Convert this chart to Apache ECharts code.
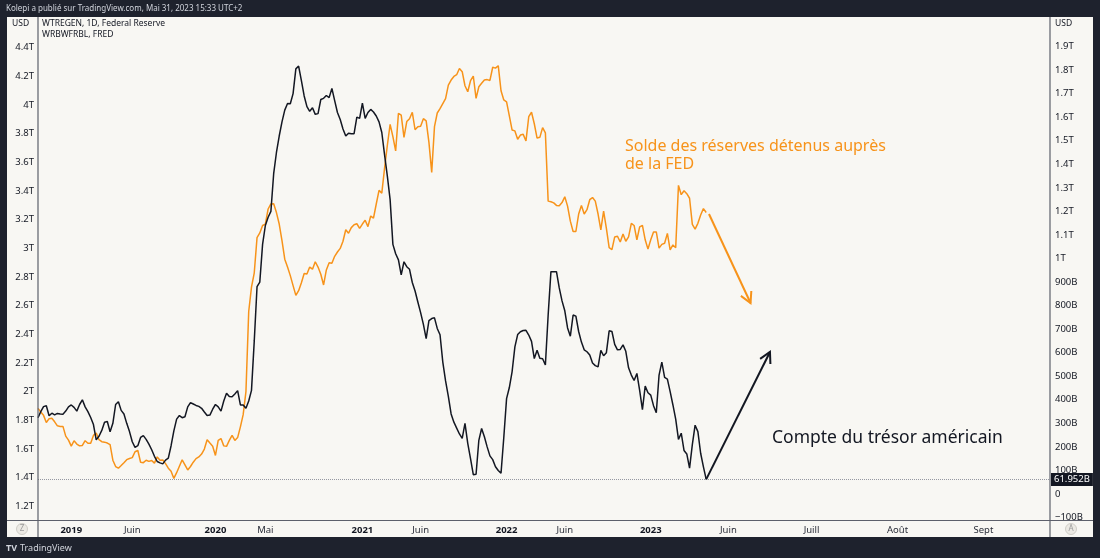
<!DOCTYPE html>
<html><head><meta charset="utf-8">
<script src="https://cdn.jsdelivr.net/npm/echarts@6/dist/echarts.min.js"></script>
<style>html,body{margin:0;padding:0;background:#1e222d;}#c{width:1100px;height:558px;}</style>
</head><body><div id="c"></div>
<script>
// ---- data ----
const firstWeek = '2018-10-10';      // first weekly observation (Wednesday)
const lastWeek = '2023-05-24';       // last weekly observation
const lastFutureDay = '2023-09-25';  // right edge of the time scale (daily future bars)

// WRBWFRBL – reserve balances with Federal Reserve Banks (billions USD), weekly
const reserves = [1884,1858,1835,1785,1812,1815,1790,1762,1758,1758,1690,1662,1620,1658,1635,1622,1625,1658,1640,1640,
1695,1712,1665,1651,1648,1642,1630,1522,1478,1466,1485,1505,1526,1534,1540,1581,1590,1508,1505,1522,
1514,1520,1502,1545,1522,1524,1498,1466,1445,1395,1435,1480,1525,1490,1454,1478,1508,1533,1545,1565,
1600,1665,1642,1620,1555,1660,1673,1622,1619,1660,1696,1660,1680,1755,1840,2000,2560,2730,2830,3075,
3108,3160,3170,3275,3310,3312,3250,3170,3055,2925,2870,2810,2740,2672,2705,2760,2825,2821,2870,2855,
2907,2870,2820,2745,2850,2900,2896,2945,2975,3000,3050,3130,3106,3145,3165,3172,3140,3170,3197,3152,
3226,3212,3310,3405,3386,3560,3720,3865,3780,3680,3943,3930,3775,3885,3905,3950,3828,3849,3852,3905,
3890,3740,3530,3850,3945,3975,4010,4045,4140,4175,4200,4212,4255,4233,4135,4093,4170,4203,4047,4128,
4152,4175,4178,4172,4264,4258,4275,4100,4036,4022,3925,3826,3820,3762,3791,3796,3750,3919,3950,3870,
3770,3775,3843,3806,3330,3326,3318,3300,3298,3320,3360,3295,3190,3118,3118,3240,3300,3240,3270,3340,
3355,3330,3240,3130,3260,3140,3005,2992,3080,3085,3045,3100,3050,3080,3175,3160,3060,3150,3160,3060,
2995,3060,3115,3115,3002,3028,3036,3105,2990,3024,3005,3440,3375,3402,3382,3350,3168,3135,3175,3233,
3278,3251];

// WTREGEN – Treasury General Account (billions USD), weekly
const tga = [324,350,371,375,332,343,336,342,340,339,352,370,378,368,352,380,400,370,350,325,
295,230,245,270,305,308,264,300,380,392,355,340,300,265,222,198,205,240,248,232,
212,188,160,138,132,128,144,152,205,268,318,333,324,328,370,388,382,376,372,364,
348,333,335,360,380,370,352,395,428,414,413,425,439,378,378,364,395,440,650,880,
900,1060,1140,1175,1200,1360,1450,1520,1580,1630,1658,1657,1700,1805,1817,1755,1690,1645,1625,1640,
1612,1615,1675,1680,1692,1683,1722,1670,1620,1590,1550,1520,1532,1530,1530,1600,1595,1660,1595,1620,
1633,1622,1605,1580,1535,1440,1350,1250,1060,1020,994,930,986,965,954,898,862,815,770,720,
660,736,745,748,703,676,560,480,415,340,305,280,255,236,300,215,150,82,84,228,
278,243,200,162,146,116,100,88,240,405,452,520,625,677,689,694,695,675,648,575,
610,576,574,548,760,944,944,944,875,820,778,705,670,760,755,690,645,612,604,590,
556,545,540,610,587,600,693,690,635,612,614,633,606,536,505,482,512,440,358,458,
430,420,375,345,505,560,495,488,435,378,318,232,258,185,170,110,210,292,265,173,
115,61.952];

const xTicks = [
  ['2019-01-02','2019',true],['2019-06-05','Juin',false],['2020-01-01','2020',true],['2020-05-06','Mai',false],
  ['2021-01-06','2021',true],['2021-06-02','Juin',false],['2022-01-05','2022',true],['2022-06-01','Juin',false],
  ['2023-01-04','2023',true],['2023-06-01','Juin',false],['2023-07-01','Juill',false],['2023-08-01','Août',false],
  ['2023-09-01','Sept',false]
];
const leftTicks = [1200,1400,1600,1800,2000,2200,2400,2600,2800,3000,3200,3400,3600,3800,4000,4200,4400];
const rightTicks = [-100,0,100,200,300,400,500,600,700,800,900,1000,1100,1200,1300,1400,1500,1600,1700,1800,1900];

// annotation arrows in data space [date, value]
const tgaArrow = [['2023-05-24', 61.952], ['2023-06-16', 603]];
const resArrow = [['2023-05-25', 3240], ['2023-06-09', 2619]];

// ---- categories (weekly history, daily future) ----
function d2s(t){return new Date(t).toISOString().slice(0,10);}
const categories = [];
let t = Date.parse(firstWeek+'T00:00:00Z');
const tLast = Date.parse(lastWeek+'T00:00:00Z');
while (t <= tLast) { categories.push(d2s(t)); t += 7*864e5; }
t = tLast + 864e5;
const tEnd = Date.parse(lastFutureDay+'T00:00:00Z');
while (t <= tEnd) { categories.push(d2s(t)); t += 864e5; }
const pad = n => Array(categories.length - n).fill(null);
const resData = reserves.concat(pad(reserves.length));
const tgaData = tga.concat(pad(tga.length));
const tickMap = new Map(xTicks.map(a => [a[0], a]));

// ---- layout ----
const W = 1100, H = 558;
const PL = 7, PR = 1093, PT = 17, PB = 537;  // light panel
const GL = 38, GR = 1050, GB = 520.5;        // plot area
const ORANGE = '#f7931a', INK = '#131722';
const FONT = 'Noto Sans';

const fmtT = v => (Math.round(v/100)/10) + 'T';
const fmtB = v => Math.abs(v) < 1e-6 ? '0' : (v >= 1000 ? (Math.round(v/100)/10) + 'T' : (v < 0 ? '\u2212' + (-v) + 'B' : v + 'B'));

const chart = echarts.init(document.getElementById('c'), null, {renderer:'canvas'});
chart.setOption({
  animation: false,
  backgroundColor: '#1e222d',
  textStyle: {fontFamily: FONT},
  grid: {left: GL, right: W - GR, top: PT, bottom: H - GB, containLabel: false},
  xAxis: {
    type: 'category', data: categories, boundaryGap: false,
    axisLine: {show: false, onZero: false}, axisTick: {show: false}, splitLine: {show: false},
    axisLabel: {
      interval: (i, v) => tickMap.has(v), hideOverlap: false, margin: 5,
      formatter: v => { const a = tickMap.get(v); return a ? (a[2] ? '{y|' + a[1] + '}' : '{m|' + a[1] + '}') : ''; },
      rich: {y: {fontWeight: 'bold', fontSize: 9.5, color: INK, fontFamily: FONT},
             m: {fontSize: 9.5, color: '#2a2e39', fontFamily: FONT}}
    }
  },
  yAxis: [
    {type: 'value', position: 'left', min: 1101.3, max: 4614.8,
     axisLine: {show: false}, axisTick: {show: false}, splitLine: {show: false},
     axisLabel: {customValues: leftTicks, formatter: fmtT, color: INK, fontSize: 9.5, margin: 4, fontFamily: FONT, hideOverlap: false}},
    {type: 'value', position: 'right', min: -112.5, max: 2025.3,
     axisLine: {show: false}, axisTick: {show: false}, splitLine: {show: false},
     axisLabel: {customValues: rightTicks, formatter: fmtB, color: INK, fontSize: 9.5, margin: 5, align: 'left', fontFamily: FONT, hideOverlap: false}}
  ],
  series: [
    {name: 'WRBWFRBL', type: 'line', yAxisIndex: 0, data: resData, showSymbol: false, connectNulls: false,
     lineStyle: {color: ORANGE, width: 1.5}, z: 3,
     markLine: {silent: true, symbol: 'none', data: [{yAxis: reserves[reserves.length-1]}],
       lineStyle: {opacity: 0}, label: {position: 'start', distance: 1, formatter: '3.251T', color: '#fff',
       backgroundColor: ORANGE, padding: [1, 2, 1, 2], lineHeight: 11, fontSize: 9.5, fontFamily: FONT}}},
    {name: 'WTREGEN', type: 'line', yAxisIndex: 1, data: tgaData, showSymbol: false, connectNulls: false,
     lineStyle: {color: INK, width: 1.5}, z: 4,
     markLine: {silent: true, symbol: 'none', data: [{yAxis: 61.952}],
       lineStyle: {color: '#9598a1', type: 'dotted', width: 1},
       label: {position: 'end', distance: 1, formatter: '61.952B', color: '#fff', backgroundColor: INK,
       padding: [1, 3, 1, 3], lineHeight: 11, fontSize: 9.5, fontFamily: FONT}}}
  ]
});

function px(pt, yIdx){ return chart.convertToPixel({xAxisIndex: 0, yAxisIndex: yIdx}, [categories.indexOf(pt[0]), pt[1]]); }
function arrow(p0, p1, color){
  const dx = p1[0]-p0[0], dy = p1[1]-p0[1], L = Math.hypot(dx, dy), ux = dx/L, uy = dy/L;
  const wing = 12, a = 0.5;
  const w1 = [p1[0] - wing*(ux*Math.cos(a) - uy*Math.sin(a)), p1[1] - wing*(uy*Math.cos(a) + ux*Math.sin(a))];
  const w2 = [p1[0] - wing*(ux*Math.cos(a) + uy*Math.sin(a)), p1[1] - wing*(uy*Math.cos(a) - ux*Math.sin(a))];
  return [
    {type: 'polyline', shape: {points: [p0, p1]}, style: {stroke: color, lineWidth: 2, fill: null}, z: 20},
    {type: 'polyline', shape: {points: [w1, p1, w2]}, style: {stroke: color, lineWidth: 2, fill: null}, z: 20}
  ];
}
const g = [];
g.push({type: 'rect', shape: {x: PL, y: PT, width: PR-PL, height: PB-PT}, style: {fill: '#f8f7f3'}, z: -10, silent: true});
g.push({type: 'line', shape: {x1: GL, y1: PT, x2: GL, y2: PB}, style: {stroke: '#5d606b', lineWidth: 1.2}, z: 5});
g.push({type: 'line', shape: {x1: GR, y1: PT, x2: GR, y2: PB}, style: {stroke: '#5d606b', lineWidth: 1.2}, z: 5});
g.push({type: 'line', shape: {x1: PL, y1: GB, x2: PR, y2: GB}, style: {stroke: '#5d606b', lineWidth: 1.2}, z: 5});
g.push({type: 'text', x: 6, y: 9, style: {text: 'Kolepi a publié sur TradingView.com, Mai 31, 2023 15:33 UTC+2', fill: '#d1d4dc', font: '8px "' + FONT + '"', textVerticalAlign: 'middle'}});
g.push({type: 'text', x: 42, y: 24, style: {text: 'WTREGEN, 1D, Federal Reserve', fill: INK, font: '8.5px "' + FONT + '"', textVerticalAlign: 'middle'}, z: 10});
g.push({type: 'text', x: 42, y: 35, style: {text: 'WRBWFRBL, FRED', fill: INK, font: '8.5px "' + FONT + '"', textVerticalAlign: 'middle'}, z: 10});
g.push({type: 'text', x: 12, y: 24, style: {text: 'USD', fill: INK, font: '8.5px "' + FONT + '"', textVerticalAlign: 'middle'}, z: 10});
g.push({type: 'text', x: 1055, y: 24, style: {text: 'USD', fill: INK, font: '8.5px "' + FONT + '"', textVerticalAlign: 'middle'}, z: 10});
g.push({type: 'circle', shape: {cx: 22, cy: 529, r: 5.5}, style: {fill: '#eceae4', stroke: '#d0cec8'}, z: 6});
g.push({type: 'text', x: 22, y: 529, style: {text: 'Z', fill: '#9a9a9a', font: '8px "' + FONT + '"', textAlign: 'center', textVerticalAlign: 'middle'}, z: 7});
g.push({type: 'circle', shape: {cx: 1071, cy: 529, r: 5.5}, style: {fill: '#eceae4', stroke: '#d0cec8'}, z: 6});
g.push({type: 'text', x: 1071, y: 529, style: {text: 'A', fill: '#9a9a9a', font: '8px "' + FONT + '"', textAlign: 'center', textVerticalAlign: 'middle'}, z: 7});
g.push({type: 'text', x: 6, y: 548, style: {text: 'TV', fill: '#d1d4dc', font: 'bold 9px "' + FONT + '"', textVerticalAlign: 'middle'}});
g.push({type: 'text', x: 20, y: 548, style: {text: 'TradingView', fill: '#d1d4dc', font: '9px "' + FONT + '"', textVerticalAlign: 'middle'}});
g.push({type: 'text', x: 625, y: 137, style: {text: 'Solde des réserves détenus auprès\nde la FED', fill: ORANGE, font: '16px "' + FONT + '"', lineHeight: 18, textVerticalAlign: 'top'}, z: 10});
g.push({type: 'text', x: 772, y: 438, style: {text: 'Compte du trésor américain', fill: INK, font: '17.5px "' + FONT + '"', textVerticalAlign: 'middle'}, z: 10});
g.push(...arrow(px(tgaArrow[0], 1), px(tgaArrow[1], 1), INK));
g.push(...arrow(px(resArrow[0], 0), px(resArrow[1], 0), ORANGE));
chart.setOption({graphic: {elements: g}});
</script></body></html>
